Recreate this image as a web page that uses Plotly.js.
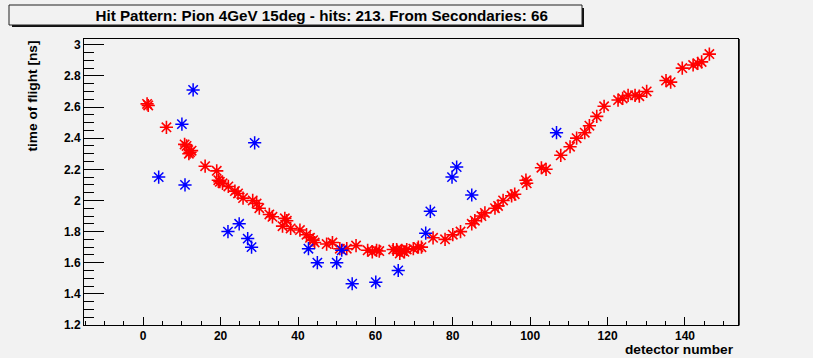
<!DOCTYPE html>
<html>
<head>
<meta charset="utf-8">
<script src="https://cdn.plot.ly/plotly-3.0.1.min.js"></script>
<style>html,body{margin:0;padding:0;background:#f2f2f2;}#chart{width:813px;height:358px;}</style>
</head>
<body>
<div id="chart"></div>
<script>
// Primary hits (red)
var redX = [1, 1.3, 6, 10.7, 11.2, 11.8, 12.1, 12.5, 16, 19, 19.4, 19.8, 20.5, 22, 23.7, 24.5, 25.8,
  28.3, 29.3, 30, 32.6, 33.4, 36, 36.6, 37.1, 38.1, 40.5, 42.2, 43.1, 43.9, 44.3, 47.4, 48.9,
  50.8, 52.6, 55, 58, 59.2, 60.3, 61, 64.6, 65.5, 66.3, 66.8, 67.5, 68.1, 69.8, 71.1, 71.9,
  74.9, 78, 80, 82, 84.9, 85.7, 87.4, 88.3, 90.9, 91.7, 93, 95.2, 96, 98.9, 99.1, 102.9, 104.1,
  107.9, 110.3, 112, 114.1, 115.3, 117.2, 119.1, 122.7, 123.9, 125.3, 127.1, 128.2, 130.1,
  135.1, 136.3, 139.3, 142.1, 143.3, 144.3, 146.3];
var redY = [2.62, 2.61, 2.47, 2.36, 2.35, 2.30, 2.31, 2.32, 2.22, 2.19, 2.13, 2.12, 2.11, 2.09, 2.06, 2.045, 2.015,
  2.00, 1.98, 1.95, 1.91, 1.895, 1.835, 1.885, 1.87, 1.82, 1.81, 1.78, 1.76, 1.745, 1.73, 1.72, 1.73,
  1.69, 1.69, 1.71, 1.68, 1.67, 1.68, 1.675, 1.685, 1.685, 1.66, 1.68, 1.67, 1.685, 1.69, 1.70, 1.70,
  1.76, 1.75, 1.78, 1.80, 1.85, 1.87, 1.90, 1.92, 1.95, 1.965, 2.00, 2.03, 2.04, 2.13, 2.11, 2.21, 2.20,
  2.29, 2.345, 2.40, 2.435, 2.48, 2.54, 2.605, 2.645, 2.655, 2.675, 2.675, 2.67, 2.70,
  2.77, 2.76, 2.85, 2.87, 2.88, 2.89, 2.94];
// Hits from secondaries (blue)
var blueX = [4, 10, 10.8, 12.9, 21.9, 24.8, 27, 28, 28.8, 42.7, 45, 50, 51.3, 54, 60.1, 65.9,
  73, 74.2, 79.8, 81, 84.9, 106.8];
var blueY = [2.15, 2.49, 2.10, 2.71, 1.80, 1.85, 1.755, 1.70, 2.37, 1.69, 1.60, 1.60, 1.68, 1.465, 1.475, 1.55,
  1.79, 1.93, 2.15, 2.215, 2.035, 2.435];

var titleText = 'Hit Pattern: Pion 4GeV 15deg - hits: 213. From Secondaries: 66';
var xTitle = 'detector number';
var yTitle = 'time of flight [ns]';

var FAM = 'Liberation Sans, Arial, sans-serif';
var FONT = {family: FAM, size: 12, color: '#000', weight: 'bold'};
var TFONT = {family: FAM, size: 13.7, color: '#000', weight: 'bold'};

var traces = [
  {x: redX, y: redY, type: 'scatter', mode: 'markers', showlegend: false,
   marker: {symbol: 'asterisk-open', size: 11, color: 'rgb(255,0,0)', line: {color: 'rgb(255,0,0)', width: 1.6}}},
  {x: blueX, y: blueY, type: 'scatter', mode: 'markers', showlegend: false,
   marker: {symbol: 'asterisk-open', size: 11, color: 'rgb(0,0,255)', line: {color: 'rgb(0,0,255)', width: 1.5}}}
];

// pixel helpers for paper coords (plot area: x 84..738, y 39..325)
function px(v){ return (v - 84) / 654; }
function py(v){ return (325 - v) / 286; }

var layout = {
  width: 813, height: 358,
  paper_bgcolor: '#f2f2f2', plot_bgcolor: '#f2f2f2',
  margin: {l: 84, r: 75, t: 39, b: 33, pad: 0},
  font: FONT,
  title: {text: titleText, font: {family: FAM, size: 15.2, color: '#000', weight: 'bold'},
          x: 295.5/813, xanchor: 'center', xref: 'paper', y: 1 - 15.5/358, yanchor: 'middle'},
  xaxis: {range: [-15.3, 153.7], tick0: 0, dtick: 20, ticks: 'inside', ticklen: 8, tickwidth: 1, tickcolor: '#000',
          showline: true, linecolor: '#000', linewidth: 1, mirror: true, showgrid: false, zeroline: false,
          tickfont: FONT,
          minor: {dtick: 5, tick0: 0, ticks: 'inside', ticklen: 4, tickwidth: 1, tickcolor: '#000', showgrid: false}},
  yaxis: {range: [1.2, 3.037], tick0: 1.2, dtick: 0.2, ticks: 'inside', ticklen: 20, tickwidth: 1, tickcolor: '#000',
          showline: true, linecolor: '#000', linewidth: 1, mirror: true, showgrid: false, zeroline: false,
          tickfont: FONT,
          minor: {dtick: 0.05, tick0: 1.2, ticks: 'inside', ticklen: 10, tickwidth: 1, tickcolor: '#000', showgrid: false}},
  shapes: [
    {type: 'rect', xref: 'paper', yref: 'paper', x0: px(12), x1: px(584), y0: py(27), y1: py(8),
     fillcolor: '#111', line: {width: 0}, layer: 'above'},
    {type: 'rect', xref: 'paper', yref: 'paper', x0: px(9), x1: px(582), y0: py(25), y1: py(5),
     fillcolor: '#f2f2f2', line: {color: '#222', width: 1}, layer: 'above'},
    {type: 'line', xref: 'paper', yref: 'paper', x0: px(739), x1: px(739), y0: py(325.5), y1: py(39),
     line: {color: '#000', width: 1.5}, layer: 'above'}
  ],
  annotations: [
    {text: yTitle, xref: 'paper', yref: 'paper', x: px(32), y: py(96.5), xanchor: 'center', yanchor: 'middle',
     textangle: -90, showarrow: false, font: TFONT},
    {text: xTitle, xref: 'paper', yref: 'paper', x: px(736), y: py(349), xanchor: 'right', yanchor: 'middle',
     showarrow: false, font: TFONT}
  ]
};

Plotly.newPlot('chart', traces, layout, {displayModeBar: false, staticPlot: true});
</script>
</body>
</html>
